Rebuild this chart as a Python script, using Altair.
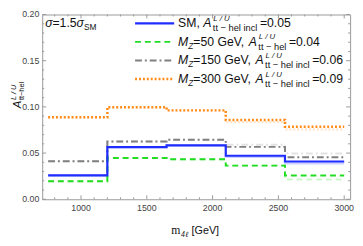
import altair as alt
import pandas as pd

# ---------------- data ----------------
edges = [750, 1200, 1650, 2100, 2550, 3000]
series = ["SM", "MZ50", "MZ150", "MZ300"]
sm = [0.0258, 0.0564, 0.0584, 0.0471, 0.0409]
mz50 = [0.0196, 0.0447, 0.0433, 0.0364, 0.0258]
mz150 = [0.0412, 0.0626, 0.0645, 0.0567, 0.0454]
mz300 = [0.0887, 0.0997, 0.0962, 0.0859, 0.0784]
# faint (light) companion lines
sm_f = [0.0258, 0.0564, 0.0584, 0.0458, 0.0388]
mz50_f = [0.0196, 0.0447, 0.0433, 0.0364, 0.0213]
mz150_f = [0.0412, 0.0626, 0.0645, 0.0590, 0.0495]
mz300_f = [0.0887, 0.0997, 0.0962, 0.0835, 0.0756]

x_major = [1000, 1500, 2000, 2500, 3000]
y_major = [0.0, 0.05, 0.10, 0.15, 0.20]
x_minor = [v for v in range(800, 3001, 100) if v % 500]
y_minor = [i / 100 for i in range(1, 20) if i % 5]

main_vals = {"SM": sm, "MZ50": mz50, "MZ150": mz150, "MZ300": mz300}
faint_vals = {"SM": sm_f, "MZ50": mz50_f, "MZ150": mz150_f, "MZ300": mz300_f}

colors = {"SM": "#1f2dff", "MZ50": "#22dd22", "MZ150": "#808080", "MZ300": "#ff8c1a"}
dashes = {"SM": [1, 0], "MZ50": [6, 4], "MZ150": [7, 3, 2, 3], "MZ300": [2, 2]}
widths = {"SM": 2.2, "MZ50": 2.0, "MZ150": 2.0, "MZ300": 2.5}

W, H = 315, 189
xs = alt.Scale(domain=[705, 3045], nice=False, zero=False)
ys = alt.Scale(domain=[0, 0.2], nice=False, zero=False)
SANS = "Liberation Sans"
SERIF = "Liberation Serif"
FRAME = "#999999"
LABEL = "#444444"


def line_layer(name, v, opacity):
    df = pd.DataFrame({"x": edges, "y": list(v) + [v[-1]]})
    return alt.Chart(df).mark_line(
        interpolate="step-after", color=colors[name], strokeDash=dashes[name],
        strokeWidth=widths[name], opacity=opacity, clip=True
    ).encode(
        x=alt.X("x:Q", scale=xs, axis=None),
        y=alt.Y("y:Q", scale=ys, axis=None),
    )


layers = []
for n in series:
    layers.append(line_layer(n, faint_vals[n], 0.22))
for n in ["MZ300", "MZ150", "MZ50", "SM"]:
    layers.append(line_layer(n, main_vals[n], 1.0))


# inward ticks on all four sides
def xticks(vals, length):
    d = pd.DataFrame({"v": vals})
    base = alt.Chart(d).mark_rule(color=FRAME, strokeWidth=1)
    return [
        base.encode(x=alt.X("v:Q", scale=xs, axis=None), y=alt.value(H), y2=alt.value(H - length)),
        base.encode(x=alt.X("v:Q", scale=xs, axis=None), y=alt.value(0), y2=alt.value(length)),
    ]


def yticks(vals, length):
    d = pd.DataFrame({"v": vals})
    base = alt.Chart(d).mark_rule(color=FRAME, strokeWidth=1)
    return [
        base.encode(y=alt.Y("v:Q", scale=ys, axis=None), x=alt.value(0), x2=alt.value(length)),
        base.encode(y=alt.Y("v:Q", scale=ys, axis=None), x=alt.value(W), x2=alt.value(W - length)),
    ]


layers += xticks(x_major, 4) + xticks(x_minor, 2) + yticks(y_major, 4) + yticks(y_minor, 2)

# tick labels through the scales
layers.append(
    alt.Chart(pd.DataFrame({"v": x_major})).mark_text(
        font=SANS, fontSize=9, color=LABEL, baseline="middle", align="center"
    ).encode(x=alt.X("v:Q", scale=xs, axis=None), y=alt.value(H + 9),
             text=alt.Text("v:Q", format="d"))
)
layers.append(
    alt.Chart(pd.DataFrame({"v": y_major})).mark_text(
        font=SANS, fontSize=9, color=LABEL, baseline="middle", align="right"
    ).encode(y=alt.Y("v:Q", scale=ys, axis=None), x=alt.value(-3),
             text=alt.Text("v:Q", format=".2f"))
)

# ---------------- rich text helper ----------------
AW = {' ': 278, ',': 278, '.': 278, '=': 584, 'A': 667, 'G': 778, 'L': 556, 'M': 833,
      'S': 667, 'U': 722, 'V': 667, 'Z': 611, 'c': 500, 'e': 556, 'h': 556, 'i': 222,
      'l': 222, 'n': 556, 't': 278, '-': 333, '\u2212': 584, '/': 278, '\u03c3': 600,
      '[': 278, ']': 278, 'm': 833, '4': 556, '\u2113': 420}
for d in "0123456789":
    AW[d] = 556


def tw(s, size):
    return sum(AW.get(c, 556) for c in s) * size / 1000.0


def compose(x0, y0, segs, rows):
    x = x0
    for seg in segs:
        if seg[0] == "n":
            _, t, fs, sty, dy = seg
            rows.append({"t": t, "px": x, "py": y0 + dy, "fs": fs, "sty": sty})
            x += tw(t, fs)
        else:
            _, sup, sub, fs, sdy, bdy = seg
            sfs = fs - 1.5
            rows.append({"t": sup, "px": x + 2, "py": y0 + sdy, "fs": sfs, "sty": "italic"})
            rows.append({"t": sub, "px": x + 1.5, "py": y0 + bdy, "fs": fs, "sty": "normal"})
            x += max(tw(sup, sfs), tw(sub, fs)) + 4
    return x


MS, SS = 12.5, 9.5
SUB1 = "tt \u2212 hel incl"
SUB2 = "tt \u2212 hel"
SUP_DY, SUB_DY = -6.5, 4
legend_rows = [
    [("n", "SM, ", MS, "normal", 0), ("n", "A", MS, "italic", 0),
     ("ss", "L / U", SUB1, SS, SUP_DY, SUB_DY), ("n", "=0.05", MS, "normal", 0)],
    [("n", "M", MS, "italic", 0), ("n", "Z", 8.5, "italic", 3), ("n", "=50 GeV, ", MS, "normal", 0),
     ("n", "A", MS, "italic", 0), ("ss", "L / U", SUB2, SS, SUP_DY, SUB_DY),
     ("n", "=0.04", MS, "normal", 0)],
    [("n", "M", MS, "italic", 0), ("n", "Z", 8.5, "italic", 3), ("n", "=150 GeV, ", MS, "normal", 0),
     ("n", "A", MS, "italic", 0), ("ss", "L / U", SUB1, SS, SUP_DY, SUB_DY),
     ("n", "=0.06", MS, "normal", 0)],
    [("n", "M", MS, "italic", 0), ("n", "Z", 8.5, "italic", 3), ("n", "=300 GeV, ", MS, "normal", 0),
     ("n", "A", MS, "italic", 0), ("ss", "L / U", SUB1, SS, SUP_DY, SUB_DY),
     ("n", "=0.09", MS, "normal", 0)],
]
row_centers = [9, 28, 47, 66]

txt = []
for segs, yc in zip(legend_rows, row_centers):
    compose(139, yc + 4, segs, txt)
# sigma annotation
compose(3, 13, [("n", "\u03c3", MS, "italic", 0), ("n", "=1.5", MS, "normal", 0),
                ("n", "\u03c3", MS, "italic", 0), ("n", "SM", 8.5, "normal", 3)], txt)
# x title pieces
serif_rows = []
xt_end = compose(132, 225, [("n", "m", 12, "normal", 0)], serif_rows)
xt_end = compose(xt_end, 225, [("n", "4\u2113", 8, "italic", 3)], serif_rows)
compose(xt_end + 3, 225, [("n", "[GeV]", 11, "normal", 0)], txt)

tdf = pd.DataFrame(txt)
sdf = pd.DataFrame(serif_rows)


def text_layer(df, sty, font, angle=None):
    d = df[df["sty"] == sty]
    kw = dict(align="left", baseline="alphabetic", font=font, fontStyle=sty, color="#111111")
    if angle is not None:
        kw["angle"] = angle
    return alt.Chart(d).mark_text(**kw).encode(
        x=alt.X("px:Q", scale=None, axis=None),
        y=alt.Y("py:Q", scale=None, axis=None),
        text="t:N",
        size=alt.Size("fs:Q", scale=None, legend=None),
    )


layers.append(text_layer(tdf, "normal", SANS))
layers.append(text_layer(tdf, "italic", SANS))
layers.append(text_layer(sdf, "normal", SERIF))
layers.append(text_layer(sdf, "italic", SERIF))

# rotated y-axis title: A^{L/U}_{tt-hel}
ydf = pd.DataFrame([
    {"t": "A", "px": -22, "py": 96, "fs": 11.5, "sty": "italic"},
    {"t": "L / U", "px": -26.5, "py": 87.5, "fs": 7.5, "sty": "italic"},
    {"t": "tt\u2212hel", "px": -19, "py": 87.5, "fs": 7.5, "sty": "normal"},
])
layers.append(text_layer(ydf, "italic", SANS, angle=270))
layers.append(text_layer(ydf, "normal", SANS, angle=270))

# legend line samples
for n, yc in zip(series, row_centers):
    layers.append(
        alt.Chart(pd.DataFrame({"k": [0]})).mark_rule(
            color=colors[n], strokeDash=dashes[n], strokeWidth=widths[n]
        ).encode(x=alt.value(95), x2=alt.value(135), y=alt.value(yc))
    )

chart = alt.layer(*layers).properties(
    width=W, height=H,
    autosize=alt.AutoSizeParams(type="none"),
    padding={"left": 35, "top": 4, "right": 5, "bottom": 38},
    background="white",
).configure_view(stroke=FRAME, strokeWidth=1)

chart.save("out.html", embed_options={"renderer": "svg", "actions": False})
